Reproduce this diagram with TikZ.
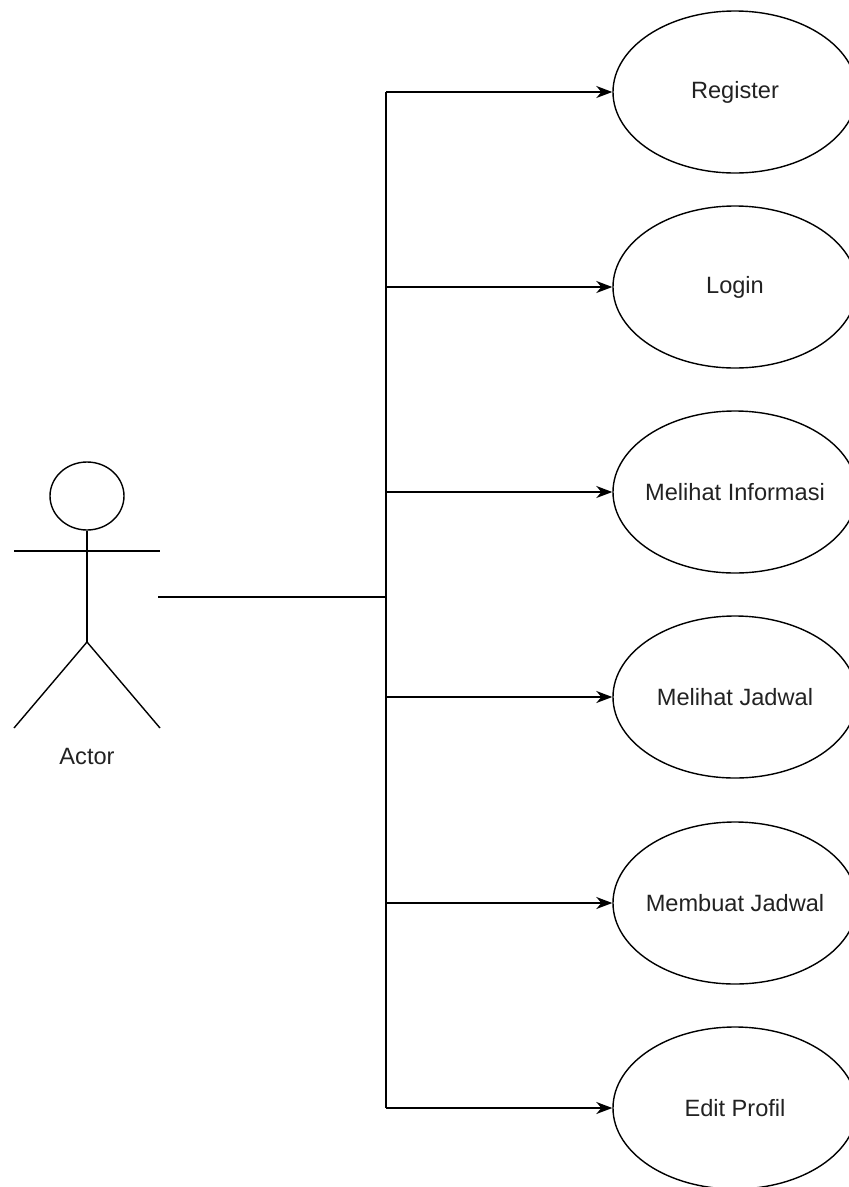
\documentclass[tikz,border=0pt]{standalone}
\usepackage{fontspec}
\setmainfont{Liberation Sans}
\usetikzlibrary{shapes.geometric,arrows.meta}
\definecolor{txt}{HTML}{222222}
\tikzset{
  ucfont/.style={font=\fontsize{23.6}{27}\selectfont, text=txt},
  usecase/.style={draw=black, line width=1.4pt, ellipse, minimum width=244pt, minimum height=162pt, inner sep=0pt, label={[ucfont]center:#1}},
  wire/.style={line width=1.6pt, draw=black},
  assoc/.style={wire, -{Stealth[length=16pt,width=12pt,inset=5pt]}},
  stick/.style={line width=1.4pt, draw=black}
}
\begin{document}
\begin{tikzpicture}[x=1pt,y=-1pt]
\useasboundingbox (0,0) rectangle (849,1187);
% use cases
\node[usecase=Register] (reg) at (735,92) {};
\node[usecase=Login] (log) at (735,287) {};
\node[usecase=Melihat Informasi] (inf) at (735,492) {};
\node[usecase=Melihat Jadwal] (jad) at (735,697) {};
\node[usecase=Membuat Jadwal] (buat) at (735,903) {};
\node[usecase=Edit Profil] (edit) at (735,1108) {};
% actor
\node[stick, ellipse, minimum width=74pt, minimum height=68pt, inner sep=0pt] (head) at (87,496) {};
\coordinate (armL) at (14,551);
\coordinate (armR) at (160,551);
\coordinate (hip) at (87,642);
\coordinate (legL) at (14,728);
\coordinate (legR) at (160,728);
\draw[stick] (armL) -- (armR);
\draw[stick] (head.south) -- (hip);
\draw[stick] (legL) -- (hip) -- (legR);
\node[ucfont] (actlbl) at (87,756) {Actor};
% connectors
\coordinate (actorR) at (158,597);
\coordinate (junc) at (386,597);
\coordinate (t1) at (386,92);
\coordinate (t2) at (386,287);
\coordinate (t3) at (386,492);
\coordinate (t4) at (386,697);
\coordinate (t5) at (386,903);
\coordinate (t6) at (386,1108);
\draw[wire] (actorR) -- (junc);
\draw[wire] (t1) -- (t6);
\draw[assoc] (t1) -- (reg.west);
\draw[assoc] (t2) -- (log.west);
\draw[assoc] (t3) -- (inf.west);
\draw[assoc] (t4) -- (jad.west);
\draw[assoc] (t5) -- (buat.west);
\draw[assoc] (t6) -- (edit.west);
\end{tikzpicture}
\end{document}
